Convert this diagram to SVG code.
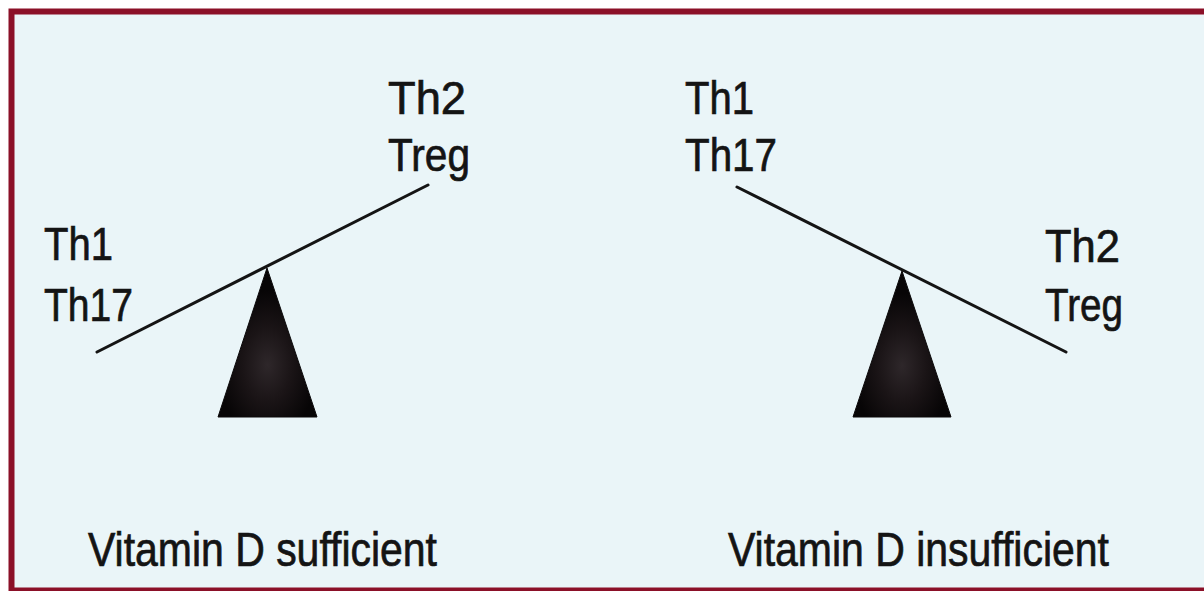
<svg xmlns="http://www.w3.org/2000/svg" width="1204" height="591" viewBox="0 0 1204 591">
  <style>
    .lbl { font-family: "Liberation Sans", Arial, sans-serif; font-size: 47px; fill: #141414; stroke: #141414; stroke-width: 0.7; }
    .cap { font-family: "Liberation Sans", Arial, sans-serif; font-size: 48px; fill: #141414; stroke: #141414; stroke-width: 0.7; }
    .beam { stroke: #141414; stroke-width: 3; fill: none; stroke-linecap: round; }
    .fulcrum { fill: url(#fg); stroke: #0c0a0b; stroke-width: 1; }
  </style>
  <defs>
    <radialGradient id="fg" cx="0.5" cy="0.65" r="0.5">
      <stop offset="0" stop-color="#2e272a"/>
      <stop offset="0.5" stop-color="#1a1416"/>
      <stop offset="1" stop-color="#070506"/>
    </radialGradient>
  </defs>
  <rect x="0" y="0" width="1204" height="591" fill="#ffffff"/>
  <rect id="frame" x="11.5" y="11.5" width="1220" height="579" fill="#eaf5f8" stroke="#8b1028" stroke-width="6"/>

  <g id="connectors">
    <line class="beam" x1="97" y1="352" x2="428" y2="185"/>
    <line class="beam" x1="737" y1="187" x2="1066" y2="352"/>
  </g>

  <g id="fulcrum-left">
    <polygon class="fulcrum" points="267,268 218,417 317,417"/>
  </g>
  <g id="fulcrum-right">
    <polygon class="fulcrum" points="902,271 853,417 951,417"/>
  </g>

  <g id="left-low">
    <text class="lbl" x="44" y="260" textLength="69" lengthAdjust="spacingAndGlyphs">Th1</text>
    <text class="lbl" x="44" y="321" textLength="89" lengthAdjust="spacingAndGlyphs">Th17</text>
  </g>
  <g id="left-high">
    <text class="lbl" x="388" y="114" textLength="78" lengthAdjust="spacingAndGlyphs">Th2</text>
    <text class="lbl" x="388" y="171" textLength="82" lengthAdjust="spacingAndGlyphs">Treg</text>
  </g>
  <g id="right-high">
    <text class="lbl" x="685" y="114" textLength="69" lengthAdjust="spacingAndGlyphs">Th1</text>
    <text class="lbl" x="685" y="171" textLength="92" lengthAdjust="spacingAndGlyphs">Th17</text>
  </g>
  <g id="right-low">
    <text class="lbl" x="1045" y="262" textLength="75" lengthAdjust="spacingAndGlyphs">Th2</text>
    <text class="lbl" x="1045" y="321" textLength="78" lengthAdjust="spacingAndGlyphs">Treg</text>
  </g>

  <g id="caption-left">
    <text class="cap" x="88" y="566" textLength="349" lengthAdjust="spacingAndGlyphs">Vitamin D sufficient</text>
  </g>
  <g id="caption-right">
    <text class="cap" x="728" y="566" textLength="381" lengthAdjust="spacingAndGlyphs">Vitamin D insufficient</text>
  </g>
</svg>
